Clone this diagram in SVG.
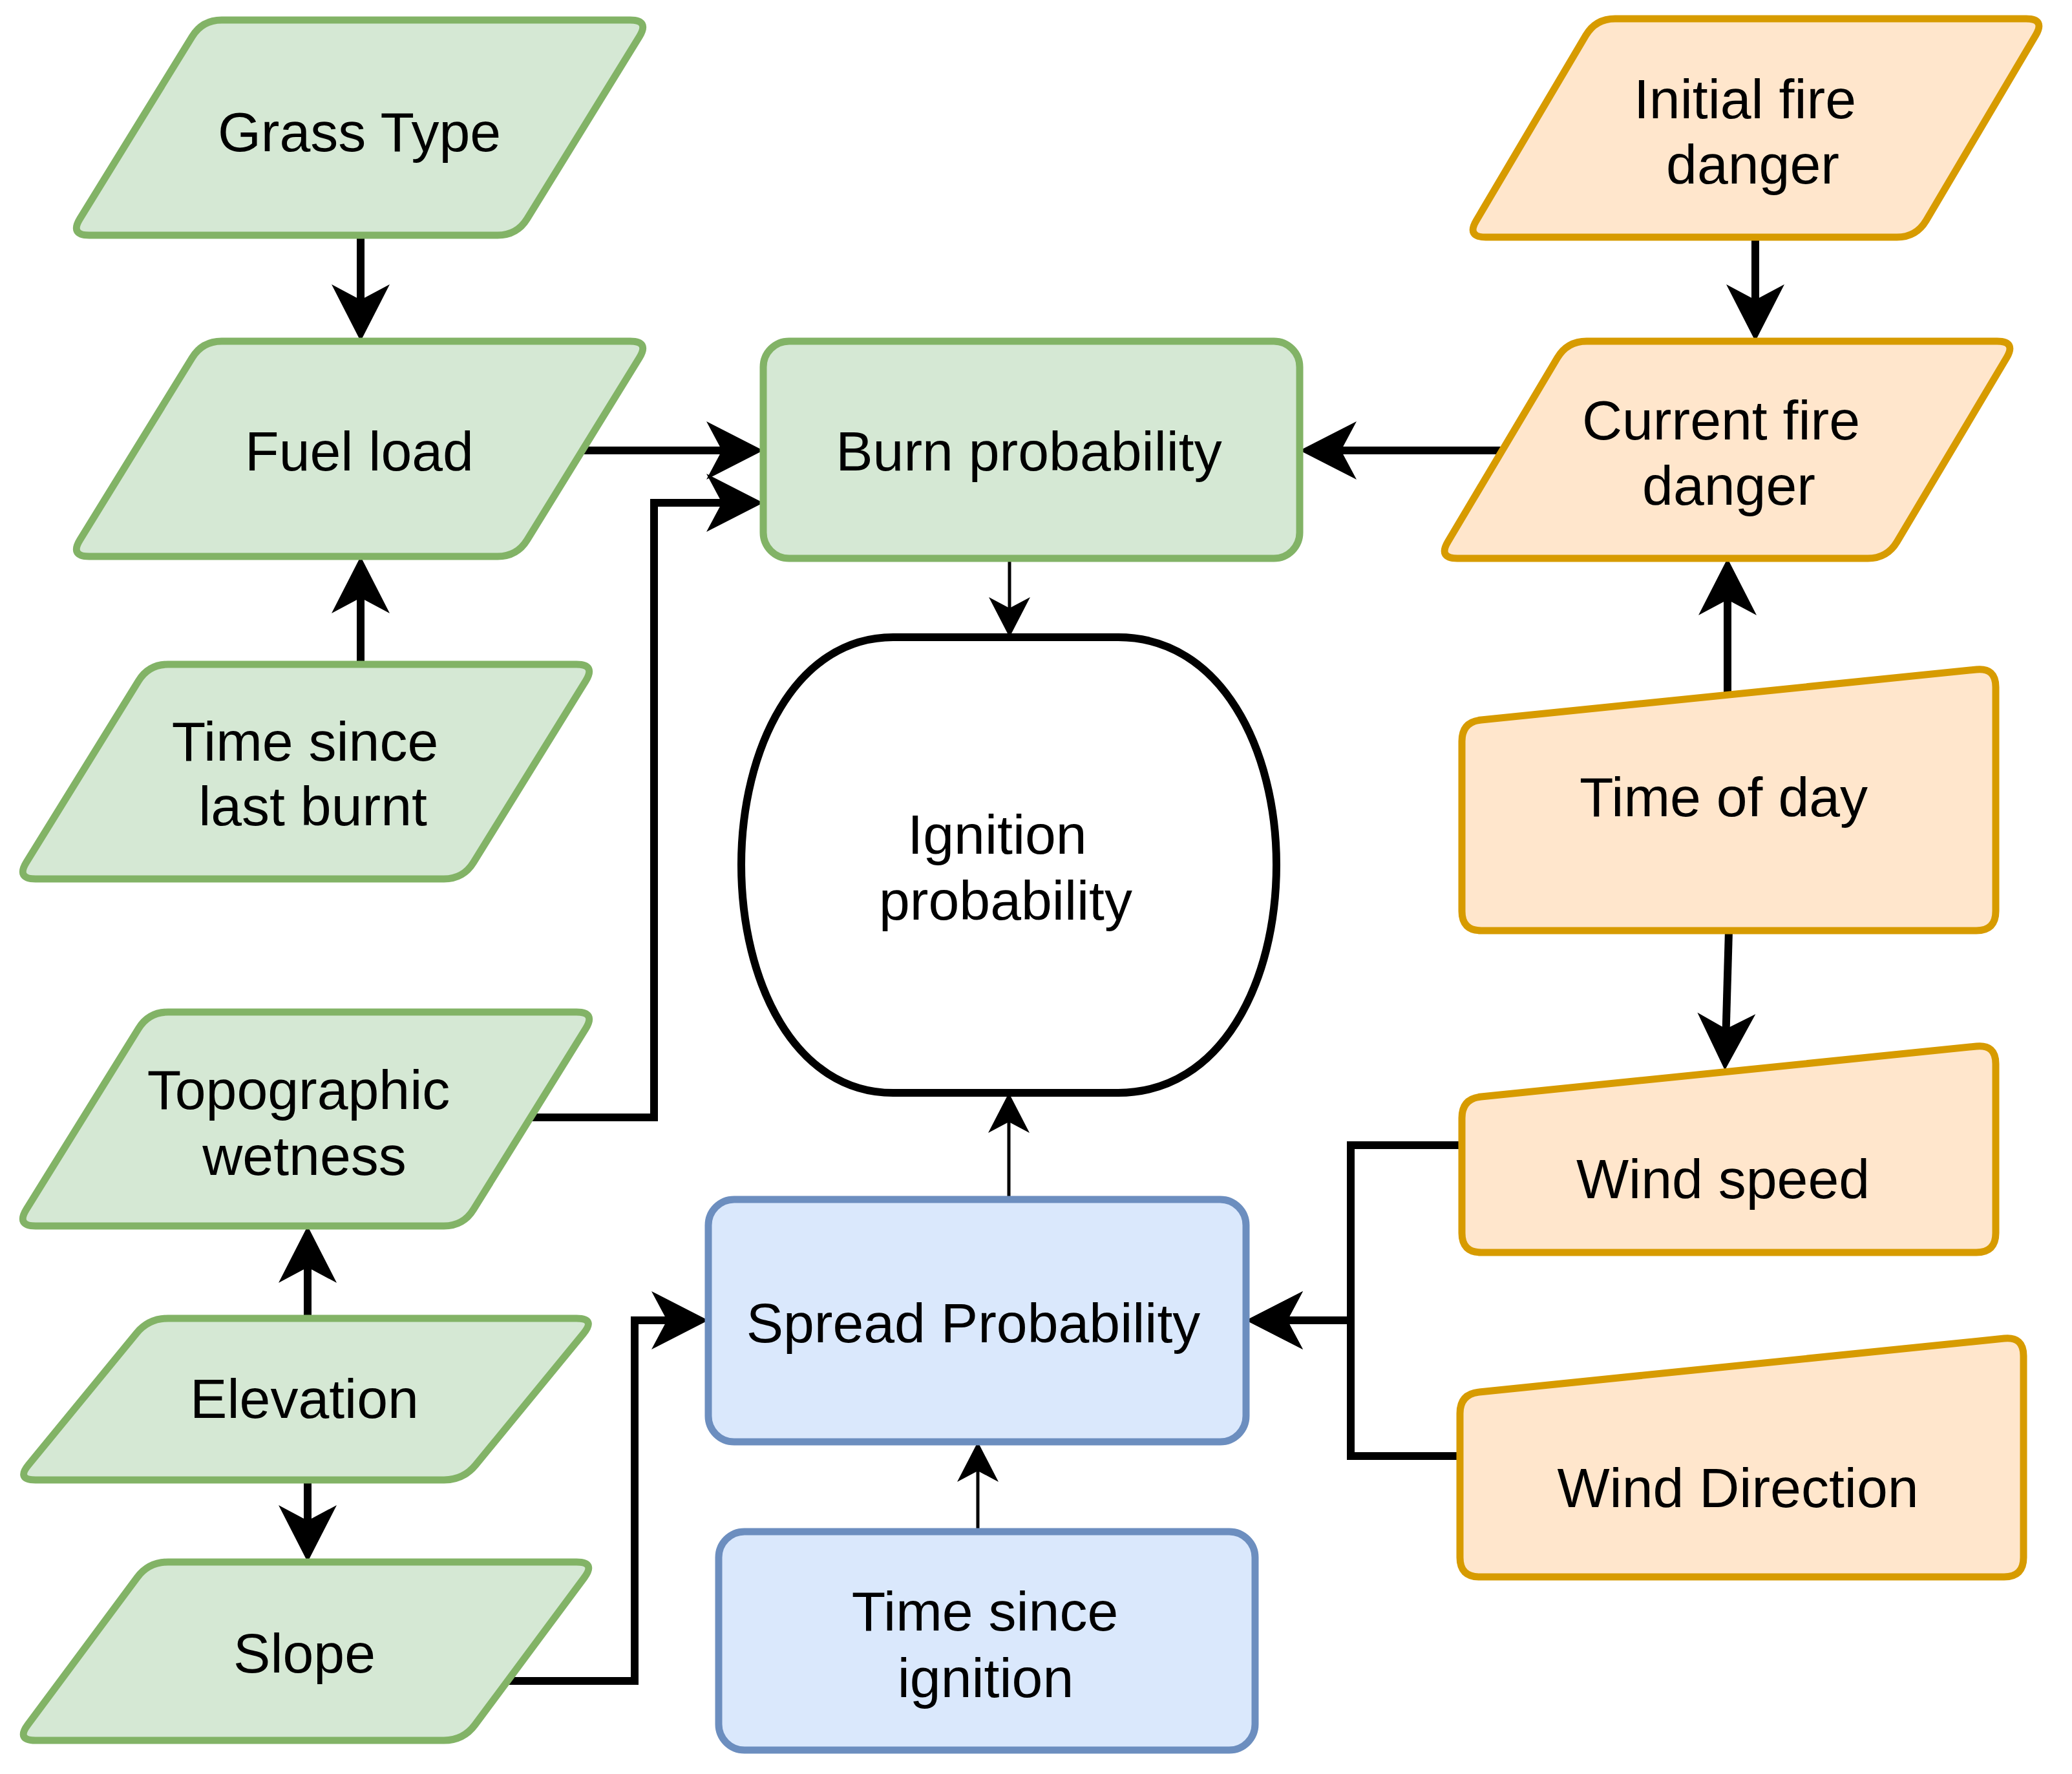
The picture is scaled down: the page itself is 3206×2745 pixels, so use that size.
<svg xmlns="http://www.w3.org/2000/svg" width="3206" height="2745" viewBox="0 0 3206 2745">
<style>
.g{fill:#d5e8d4;stroke:#82b366;stroke-width:11}
.o{fill:#ffe6cc;stroke:#d79b00;stroke-width:11}
.b{fill:#dae8fc;stroke:#6c8ebf;stroke-width:11}
.k{fill:#ffffff;stroke:#000;stroke-width:12}
text{font-family:"Liberation Sans",Arial,sans-serif;font-size:86px;fill:#000;text-anchor:middle}
.c{fill:none;stroke:#000;stroke-width:12;stroke-linejoin:miter;marker-end:url(#ah)}
.t{fill:none;stroke:#000;stroke-width:5;marker-end:url(#as)}
</style>
<defs>
<marker id="ah" markerUnits="userSpaceOnUse" markerWidth="100" markerHeight="100" viewBox="-90 -50 100 100" refX="-40" refY="0" orient="auto" overflow="visible"><path d="M0,0 L-88,-45 L-64,0 L-88,45 Z" fill="#000"/></marker>
<marker id="as" markerUnits="userSpaceOnUse" markerWidth="70" markerHeight="70" viewBox="-65 -35 70 70" refX="-30" refY="0" orient="auto" overflow="visible"><path d="M0,0 L-62,-32 L-45,0 L-62,32 Z" fill="#000"/></marker>
</defs>
<rect width="3206" height="2745" fill="#fff"/>
<g id="connectors">
<path class="c" d="M558,364 L558,488"/>
<path class="c" d="M558,1028 L558,901"/>
<path class="c" d="M901,697 L1141,697"/>
<path class="c" d="M821,1729 L1012,1729 L1012,778 L1141,778"/>
<path class="c" d="M2716,367 L2716,488"/>
<path class="c" d="M2324,697 L2051,697"/>
<path class="c" d="M2673,1075 L2673,904"/>
<path class="c" d="M2675,1440 L2670,1616"/>
<path class="c" d="M476,2040 L476,1937"/>
<path class="c" d="M476,2290 L476,2377"/>
<path class="c" d="M785,2601 L982,2601 L982,2043 L1056,2043"/>
<path class="c" d="M2262,1772 L2090,1772 L2090,2043 L1968,2043"/>
<path class="c" d="M2259,2253 L2090,2253 L2090,2043 L1968,2043"/>
<path class="t" d="M1562,864 L1562,956"/>
<path class="t" d="M1561,1856 L1561,1721"/>
<path class="t" d="M1513,2370 L1513,2261"/>
</g>
<g id="grass-type"><path class="g" d="M343,31 L975,31 Q1005,31 989.3,56.6 L815.7,338.4 Q800,364 770,364 L138,364 Q108,364 123.7,338.4 L297.3,56.6 Q313,31 343,31 Z"/><text x="556" y="234">Grass Type</text></g>
<g id="fuel-load"><path class="g" d="M343,528 L975,528 Q1005,528 989.3,553.6 L815.7,835.4 Q800,861 770,861 L138,861 Q108,861 123.7,835.4 L297.3,553.6 Q313,528 343,528 Z"/><text x="556" y="728">Fuel load</text></g>
<g id="time-since-last-burnt"><path class="g" d="M260,1028 L892,1028 Q922,1028 906.3,1053.6 L732.7,1334.4 Q717,1360 687,1360 L55,1360 Q25,1360 40.7,1334.4 L214.3,1053.6 Q230,1028 260,1028 Z"/><text x="472" y="1177">Time since</text><text x="484" y="1277">last burnt</text></g>
<g id="topographic-wetness"><path class="g" d="M260,1566 L892,1566 Q922,1566 906.3,1591.6 L732.7,1871.4 Q717,1897 687,1897 L55,1897 Q25,1897 40.7,1871.4 L214.3,1591.6 Q230,1566 260,1566 Z"/><text x="462" y="1716">Topographic</text><text x="471" y="1818">wetness</text></g>
<g id="elevation"><path class="g" d="M260,2040 L892,2040 Q922,2040 903,2063.2 L736,2266.8 Q717,2290 687,2290 L55,2290 Q25,2290 44,2266.8 L211,2063.2 Q230,2040 260,2040 Z"/><text x="471" y="2194">Elevation</text></g>
<g id="slope"><path class="g" d="M260,2417 L892,2417 Q922,2417 904.1,2441.1 L734.9,2668.9 Q717,2693 687,2693 L55,2693 Q25,2693 42.9,2668.9 L212.1,2441.1 Q230,2417 260,2417 Z"/><text x="471" y="2588">Slope</text></g>
<g id="burn-probability"><rect class="g" x="1181" y="528" width="830" height="336" rx="40"/><text x="1592" y="728">Burn probability</text></g>
<g id="ignition-probability"><path class="k" d="M1382,986 L1730,986 C1890,986 1975,1160 1975,1338 C1975,1520 1890,1691 1730,1691 L1382,1691 C1230,1691 1147,1520 1147,1338 C1147,1160 1230,986 1382,986 Z"/><text x="1543" y="1321">Ignition</text><text x="1556" y="1423">probability</text></g>
<g id="spread-probability"><rect class="b" x="1096" y="1856" width="832" height="375" rx="40"/><text x="1506" y="2077">Spread Probability</text></g>
<g id="time-since-ignition"><rect class="b" x="1112" y="2370" width="830" height="338" rx="40"/><text x="1524" y="2523">Time since</text><text x="1525" y="2626">ignition</text></g>
<g id="initial-fire-danger"><path class="o" d="M2499,29 L3135,29 Q3165,29 3149.7,54.8 L2980.3,341.2 Q2965,367 2935,367 L2299,367 Q2269,367 2284.3,341.2 L2453.7,54.8 Q2469,29 2499,29 Z"/><text x="2700" y="183">Initial fire</text><text x="2712" y="284">danger</text></g>
<g id="current-fire-danger"><path class="o" d="M2455,528 L3090,528 Q3120,528 3104.7,553.8 L2935.3,838.2 Q2920,864 2890,864 L2255,864 Q2225,864 2240.3,838.2 L2409.7,553.8 Q2425,528 2455,528 Z"/><text x="2663" y="680">Current fire</text><text x="2675" y="781">danger</text></g>
<g id="time-of-day"><path class="o" d="M2262,1147 Q2262,1117 2291.8,1114 L3058.2,1036 Q3088,1033 3088,1063 L3088,1410 Q3088,1440 3058,1440 L2292,1440 Q2262,1440 2262,1410 Z"/><text x="2667" y="1263">Time of day</text></g>
<g id="wind-speed"><path class="o" d="M2262,1730 Q2262,1700 2291.8,1697 L3058.2,1619 Q3088,1616 3088,1646 L3088,1908 Q3088,1938 3058,1938 L2292,1938 Q2262,1938 2262,1908 Z"/><text x="2666" y="1854">Wind speed</text></g>
<g id="wind-direction"><path class="o" d="M2259,2187 Q2259,2157 2288.9,2154 L3101.1,2071 Q3131,2068 3131,2098 L3131,2410 Q3131,2440 3101,2440 L2289,2440 Q2259,2440 2259,2410 Z"/><text x="2689" y="2332">Wind Direction</text></g>
</svg>
